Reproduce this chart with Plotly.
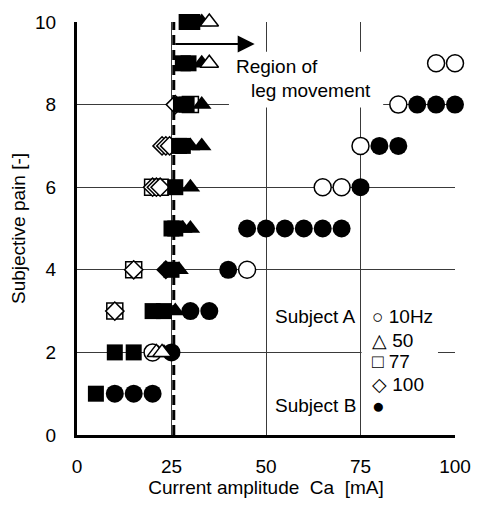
import plotly.graph_objects as go

# ---------------- data ----------------
x_ticks = [0, 25, 50, 75, 100]
y_ticks = [0, 2, 4, 6, 8, 10]

# Subject A (open markers)
a10_x = [20, 45, 65, 70, 75, 85, 95, 100]
a10_y = [2, 4, 6, 6, 7, 8, 9, 9]
a77_x = [10, 15, 20, 22, 30]
a77_y = [3, 4, 6, 6, 8]
a100_x = [10, 15, 20, 21, 22, 22.5, 23.5, 24.5, 26]
a100_y = [3, 4, 6, 6, 6, 7, 7, 7, 8]
a50_x = [21, 22.5, 35, 35]
a50_y = [2, 2, 9, 10]

# Subject B (filled markers)
b10_x = [10, 15, 20, 25, 30, 35, 40, 45, 50, 55, 60, 65, 70, 75, 80, 85, 90, 95, 100]
b10_y = [1, 1, 1, 2, 3, 3, 4, 5, 5, 5, 5, 5, 5, 6, 7, 7, 8, 8, 8]
b50_x = [23, 26, 27, 28, 30, 30, 30, 33, 33, 33, 33]
b50_y = [2, 3, 4, 5, 5, 6, 7, 7, 8, 9, 10]
b77_x = [5, 10, 15, 20, 23, 25, 25, 26, 26, 27, 28, 27.5, 29, 28, 29.5, 29, 30.5]
b77_y = [1, 2, 2, 3, 3, 4, 5, 5, 6, 7, 7, 8, 8, 9, 9, 10, 10]
b100_x = [23.5]
b100_y = [4]

threshold_ma = 25.6  # dashed line: region of leg movement
arrow_end_ma = 47.0

FONT = "Liberation Sans, Arial, sans-serif"

fig = go.Figure()

def add(x, y, symbol, filled, size):
    fig.add_trace(go.Scatter(
        x=x, y=y, mode="markers", cliponaxis=False, showlegend=False,
        marker=dict(symbol=symbol, size=size,
                    color="black" if filled else "white",
                    line=dict(color="black", width=0 if filled else 1.5)),
    ))

add(a10_x, a10_y, "circle", False, 17)
add(a77_x, a77_y, "square", False, 16)
add(a100_x, a100_y, "diamond", False, 14)
add(b10_x, b10_y, "circle", True, 18)
add(b77_x, b77_y, "square", True, 16)
add(b50_x, b50_y, "triangle-up", True, 17)
add(b100_x, b100_y, "diamond", True, 15)
add(a50_x, a50_y, "triangle-up", False, 16)

# white boxes behind texts (cover gridlines)
fig.add_shape(type="rect", x0=40.2, x1=81.0, y0=7.93, y1=9.28, xref="x", yref="y",
              fillcolor="white", line=dict(width=0), layer="between")
fig.add_shape(type="rect", x0=75.3, x1=95.5, y0=0.35, y1=3.3, xref="x", yref="y",
              fillcolor="white", line=dict(width=0), layer="between")
# dashed threshold line
fig.add_shape(type="line", x0=threshold_ma, x1=threshold_ma, y0=0, y1=10,
              xref="x", yref="y", line=dict(color="black", width=3, dash="10px,5px"),
              layer="between")

# arrow
fig.add_annotation(x=arrow_end_ma, y=9.47, ax=threshold_ma, ay=9.47,
                   xref="x", yref="y", axref="x", ayref="y", text="",
                   showarrow=True, arrowhead=2, arrowwidth=2, arrowsize=1.7,
                   arrowcolor="black")

tf = dict(family=FONT, size=19, color="black")
fig.add_annotation(x=41.5, y=8.93, xref="x", yref="y", text="Region of",
                   showarrow=False, xanchor="left", font=tf)
fig.add_annotation(x=45.4, y=8.35, xref="x", yref="y", text="leg movement",
                   showarrow=False, xanchor="left", font=tf)

# legend made of text
fig.add_annotation(x=74.4, y=2.86, xref="x", yref="y", text="Subject A",
                   showarrow=False, xanchor="right", font=tf)
fig.add_annotation(x=74.4, y=0.72, xref="x", yref="y", text="Subject B",
                   showarrow=False, xanchor="right", font=tf)
leg_rows = [("○ 10Hz", 2.86, 19), ("△ 50", 2.3, 19), ("□ 77", 1.79, 19),
            ("◇ 100", 1.23, 19), ("●", 0.72, 21)]
for txt, yy, fs in leg_rows:
    fig.add_annotation(x=77.6, y=yy, xref="x", yref="y", text=txt,
                       showarrow=False, xanchor="left",
                       font=dict(family=FONT, size=fs, color="black"))

fig.update_layout(
    width=483, height=507,
    margin=dict(l=77, r=18, t=16, b=61),
    paper_bgcolor="white", plot_bgcolor="white",
    font=dict(family=FONT, size=19, color="black"),
    xaxis=dict(range=[0, 100], tickvals=x_ticks, ticktext=[str(v) for v in x_ticks],
               showgrid=True, gridcolor="#3a3a3a", gridwidth=1,
               showline=True, linecolor="black", linewidth=3, zeroline=False,
               ticks="", ticklabelstandoff=12,
               title=dict(text="Current amplitude\u00a0\u00a0Ca\u00a0\u00a0[mA]", standoff=5,
                          font=dict(size=19))),
    yaxis=dict(range=[0, 10], tickvals=y_ticks, ticktext=[str(v) for v in y_ticks],
               showgrid=True, gridcolor="#3a3a3a", gridwidth=1,
               showline=True, linecolor="black", linewidth=3, zeroline=False,
               ticks="", ticklabelstandoff=14,
               title=dict(text="Subjective pain [-]", standoff=5, font=dict(size=19))),
)

fig.write_html("out.html")
